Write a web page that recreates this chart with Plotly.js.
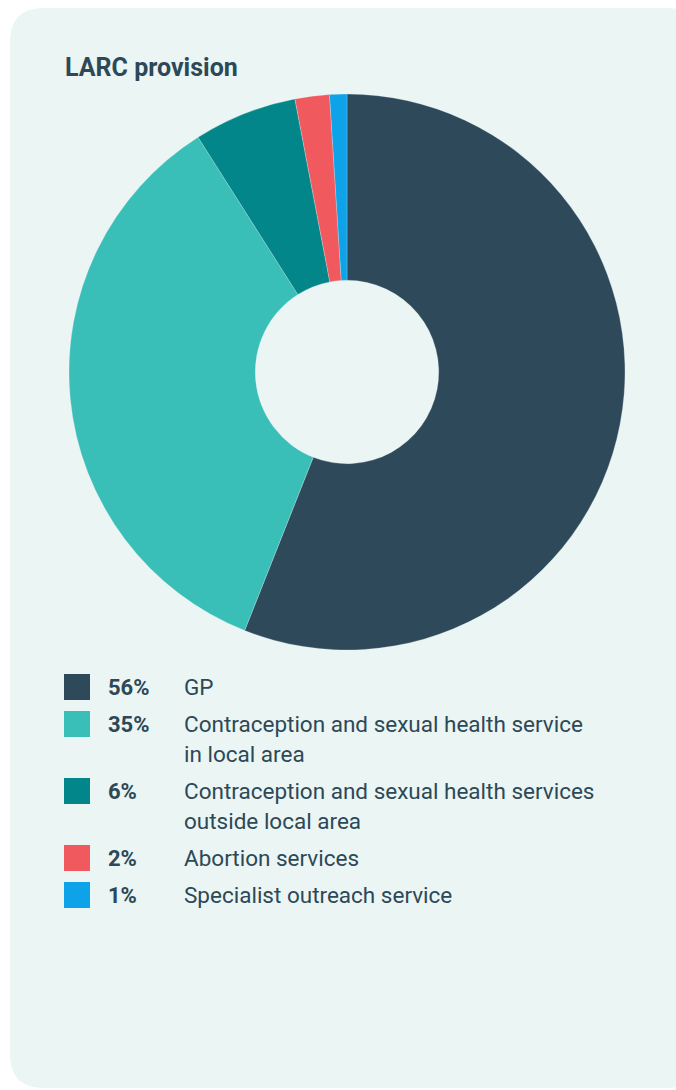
<!DOCTYPE html>
<html>
<head>
<meta charset="utf-8">
<script src="https://cdn.plot.ly/plotly-3.0.1.min.js"></script>
<style>
  html, body { margin: 0; padding: 0; background: #ffffff; }
  #chart { width: 676px; height: 1090px; }
</style>
</head>
<body>
<div id="chart"></div>
<script>
// LARC provision by service type (share of provision, %)
const categories = [
  "GP",
  "Contraception and sexual health service\nin local area",
  "Contraception and sexual health services\noutside local area",
  "Abortion services",
  "Specialist outreach service"
];
const shares = [56, 35, 6, 2, 1];
const sliceColors = ["#2e4a5a", "#39bfb8", "#03868a", "#f05a5e", "#0ea2e8"];

const W = 676, H = 1090;
const cardFill = "#ebf5f4";
const ink = "#2d4857";
const font = "Roboto, 'Open Sans', sans-serif";

// Donut
const pie = {
  type: "pie",
  values: shares,
  labels: categories.map(c => c.replace("\n", " ")),
  marker: { colors: sliceColors, line: { color: "rgba(235,245,244,0.5)", width: 0.5 } },
  hole: 0.33,
  sort: false,
  direction: "clockwise",
  rotation: 0,
  textinfo: "none",
  hoverinfo: "label+percent",
  showlegend: false,
  domain: { x: [69 / W, 625 / W], y: [1 - 650 / H, 1 - 94 / H] }
};

// Card background with rounded corners (pixel space via hidden axes)
const r = 34;
const cx0 = 10, cy0 = 8, cx1 = 700, cy1 = 1088;
const cardPath = `M ${cx0 + r},${cy0} L ${cx1 - r},${cy0} Q ${cx1},${cy0} ${cx1},${cy0 + r} ` +
  `L ${cx1},${cy1 - r} Q ${cx1},${cy1} ${cx1 - r},${cy1} L ${cx0 + r},${cy1} ` +
  `Q ${cx0},${cy1} ${cx0},${cy1 - r} L ${cx0},${cy0 + r} Q ${cx0},${cy0} ${cx0 + r},${cy0} Z`;

const shapes = [{
  type: "path", path: cardPath, xref: "x", yref: "y",
  fillcolor: cardFill, line: { width: 0 }, layer: "below"
}];
const annotations = [{
  text: "<b>LARC provision</b>", x: 63, y: 67, xref: "x", yref: "y",
  xanchor: "left", yanchor: "middle", showarrow: false,
  font: { family: font, size: 25, color: ink }
}];

// Custom legend: swatch, bold share, wrapped label
const rowStart = 687, rowGap = 37, lineGap = 30, sw = 26;
let yc = rowStart;
categories.forEach((cat, i) => {
  const lines = cat.split("\n");
  shapes.push({
    type: "rect", xref: "x", yref: "y",
    x0: 64, x1: 64 + sw, y0: yc - sw / 2, y1: yc + sw / 2,
    fillcolor: sliceColors[i], line: { width: 0 }
  });
  annotations.push({
    text: `<b>${shares[i]}%</b>`, x: 106, y: yc, xref: "x", yref: "y",
    xanchor: "left", yanchor: "middle", showarrow: false,
    font: { family: font, size: 22, color: ink }
  });
  lines.forEach((ln, k) => {
    annotations.push({
      text: ln, x: 182, y: yc + k * lineGap, xref: "x", yref: "y",
      xanchor: "left", yanchor: "middle", showarrow: false,
      font: { family: font, size: 22.5, color: ink }
    });
  });
  yc += rowGap + (lines.length - 1) * lineGap;
});

const layout = {
  width: W, height: H,
  margin: { l: 0, r: 0, t: 0, b: 0 },
  paper_bgcolor: "#ffffff",
  plot_bgcolor: "rgba(0,0,0,0)",
  xaxis: { range: [0, W], visible: false, fixedrange: true },
  yaxis: { range: [H, 0], visible: false, fixedrange: true },
  shapes: shapes,
  annotations: annotations
};

Plotly.newPlot("chart", [pie], layout, { displayModeBar: false, staticPlot: true });
</script>
</body>
</html>
